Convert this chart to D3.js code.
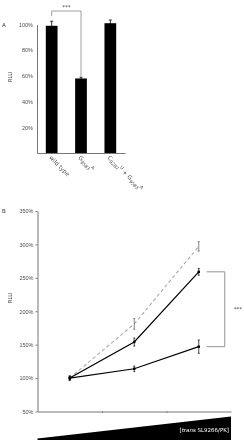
<!DOCTYPE html>
<html>
<head>
<meta charset="utf-8">
<script src="https://cdn.jsdelivr.net/npm/d3@7"></script>
<style>
  body { margin: 0; background: #fff; }
  svg { display: block; font-family: 'DejaVu Sans', Verdana, sans-serif; will-change: transform; }
  .axis text { fill: #4d4d4d; font-size: 5.5px; }
  .axis path, .axis line { stroke: #777; }
</style>
</head>
<body>
<svg id="chart" width="244" height="440"></svg>
<script>
// panel A: relative luciferase units per construct
const constructs = ['wt', 'g9583a', 'c9287u_g9583a'];
const rluA = [99, 58, 101];
const errA = [3.5, 1, 2.5];
const ticksA = [20, 40, 60, 80, 100];

// panel B: dose response against trans SL9266/PK
const doses = ['low', 'mid', 'high'];
const seriesDashed = [100, 181, 297];
const errDashed = [3, 8, 7];
const seriesUpper = [100, 154, 259];
const errUpper = [3, 6, 5];
const seriesLower = [100, 114, 147];
const errLower = [3, 4, 10];
const ticksB = [50, 100, 150, 200, 250, 300, 350];

const svg = d3.select('#chart');

// ---------- panel A ----------
const xA = d3.scaleBand().domain(constructs).range([37, 125]).paddingInner(0.6).paddingOuter(0.3);
const yA = d3.scaleLinear().domain([0, 100]).range([153, 24.5]);

svg.append('g')
  .attr('class', 'axis')
  .attr('transform', 'translate(37,0)')
  .call(d3.axisLeft(yA).tickValues(ticksA).tickSize(0).tickSizeOuter(0).tickPadding(4).tickFormat((d) => d + '%'));

svg.append('g')
  .attr('class', 'axis')
  .attr('transform', 'translate(0,153)')
  .call(d3.axisBottom(xA).tickSize(0).tickSizeOuter(0).tickFormat(''));

svg.selectAll('rect.bar')
  .data(rluA)
  .enter()
  .append('rect')
  .attr('class', 'bar')
  .attr('x', (_, i) => xA(constructs[i]))
  .attr('y', (d) => yA(d))
  .attr('width', xA.bandwidth())
  .attr('height', (d) => yA(0) - yA(d))
  .attr('fill', '#000');

const errBarsA = svg.append('g').attr('stroke', '#000').attr('stroke-width', 0.8);
rluA.forEach((d, i) => {
  const cx = xA(constructs[i]) + xA.bandwidth() / 2;
  errBarsA.append('line').attr('x1', cx).attr('x2', cx).attr('y1', yA(d - errA[i])).attr('y2', yA(d + errA[i]));
  errBarsA.append('line').attr('x1', cx - 1.5).attr('x2', cx + 1.5).attr('y1', yA(d + errA[i])).attr('y2', yA(d + errA[i]));
});

// rotated construct labels
const labelsA = [
  [['wild type', null]],
  [['G', null], ['9583', 'sub'], ['A', 'sup']],
  [['C', null], ['9287', 'sub'], ['U', 'sup'], [' + G', null], ['9583', 'sub'], ['A', 'sup']],
];
labelsA.forEach((parts, i) => {
  const cx = xA(constructs[i]) + xA.bandwidth() / 2;
  const t = svg.append('text')
    .attr('transform', `translate(${cx - 3},${yA(0) + 5}) rotate(45)`)
    .attr('font-size', 5.8)
    .attr('fill', '#4d4d4d');
  let shift = 0;
  parts.forEach(([s, kind]) => {
    const target = kind === 'sub' ? 1.7 : kind === 'sup' ? -2.1 : 0;
    t.append('tspan')
      .attr('dy', target - shift)
      .attr('font-size', kind ? 4.5 : 5.8)
      .text(s);
    shift = target;
  });
});

// significance bracket A
const bx1 = xA(constructs[0]) + xA.bandwidth() / 2;
const bx2 = xA(constructs[1]) + xA.bandwidth() / 2;
svg.append('path')
  .attr('d', `M${bx1},${yA(106.5)}V${yA(110.5)}H${bx2}V${yA(60)}`)
  .attr('fill', 'none')
  .attr('stroke', '#888')
  .attr('stroke-width', 0.8);
svg.append('text').attr('x', (bx1 + bx2) / 2).attr('y', yA(112)).attr('text-anchor', 'middle')
  .attr('font-size', 5.5).attr('fill', '#444').text('***');

svg.append('text').attr('x', 2).attr('y', 27).attr('font-size', 5.5).attr('fill', '#333').text('A');
svg.append('text').attr('transform', 'translate(12,77) rotate(-90)').attr('text-anchor', 'middle')
  .attr('font-size', 5.5).attr('fill', '#444').text('RLU');

// ---------- panel B ----------
const xB = d3.scaleLinear().domain([-0.5, 2.5]).range([37.5, 231]);
const yB = d3.scaleLinear().domain([50, 350]).range([411.5, 211]);

svg.append('g')
  .attr('class', 'axis')
  .attr('transform', 'translate(37.5,0)')
  .call(d3.axisLeft(yB).tickValues(ticksB).tickSize(2).tickSizeOuter(0).tickPadding(2).tickFormat((d) => d + '%'));

svg.append('g')
  .attr('class', 'axis')
  .attr('transform', 'translate(0,411.5)')
  .call(d3.axisBottom(xB).tickValues([0.5, 1.5]).tickSize(1.5).tickSizeOuter(0).tickFormat(''));

const line = d3.line().x((_, i) => xB(i)).y((d) => yB(d));

function drawSeries(values, errs, stroke, dash, width) {
  svg.append('path')
    .datum(values)
    .attr('fill', 'none')
    .attr('stroke', stroke)
    .attr('stroke-width', width)
    .attr('stroke-dasharray', dash)
    .attr('d', line);
  const g = svg.append('g').attr('stroke', stroke === '#000' ? '#000' : '#555').attr('stroke-width', 0.7);
  values.forEach((d, i) => {
    const cx = xB(i);
    g.append('line').attr('x1', cx).attr('x2', cx).attr('y1', yB(d - errs[i])).attr('y2', yB(d + errs[i]));
    g.append('line').attr('x1', cx - 1).attr('x2', cx + 1).attr('y1', yB(d - errs[i])).attr('y2', yB(d - errs[i]));
    g.append('line').attr('x1', cx - 1).attr('x2', cx + 1).attr('y1', yB(d + errs[i])).attr('y2', yB(d + errs[i]));
  });
  if (stroke === '#000') {
    svg.selectAll(null)
      .data(values)
      .enter()
      .append('rect')
      .attr('x', (_, i) => xB(i) - 1.2)
      .attr('y', (d) => yB(d) - 1.2)
      .attr('width', 2.4)
      .attr('height', 2.4)
      .attr('fill', '#000');
  }
}

drawSeries(seriesDashed, errDashed, '#aaa', '3.5,2.5', 1.1);
drawSeries(seriesUpper, errUpper, '#000', null, 1.2);
drawSeries(seriesLower, errLower, '#000', null, 1.2);

// significance bracket B
const sx1 = xB(2) + 8;
const sx2 = xB(2) + 26;
svg.append('path')
  .attr('d', `M${sx1},${yB(seriesUpper[2])}H${sx2}V${yB(seriesLower[2])}H${sx1}`)
  .attr('fill', 'none')
  .attr('stroke', '#888')
  .attr('stroke-width', 0.9);
svg.append('text').attr('x', sx2 + 13).attr('y', (yB(seriesUpper[2]) + yB(seriesLower[2])) / 2 + 2)
  .attr('text-anchor', 'middle').attr('font-size', 5.5).attr('fill', '#444').text('***');

svg.append('text').attr('x', 2).attr('y', 213).attr('font-size', 5.5).attr('fill', '#333').text('B');
svg.append('text').attr('transform', 'translate(12,298) rotate(-90)').attr('text-anchor', 'middle')
  .attr('font-size', 5.5).attr('fill', '#444').text('RLU');

// concentration wedge
const [wx0, wx1] = xB.range();
svg.append('path')
  .attr('d', `M${wx0},438.5L${wx1},416.5V440H${wx0}Z`)
  .attr('fill', '#000');
const wedgeLabel = svg.append('text')
  .attr('x', wx1 - 2)
  .attr('y', 432)
  .attr('text-anchor', 'end')
  .attr('font-size', 5.5)
  .attr('fill', '#fff');
wedgeLabel.append('tspan').text('[');
wedgeLabel.append('tspan').attr('font-style', 'italic').text('trans');
wedgeLabel.append('tspan').text(' SL9266/PK]');
</script>
</body>
</html>
